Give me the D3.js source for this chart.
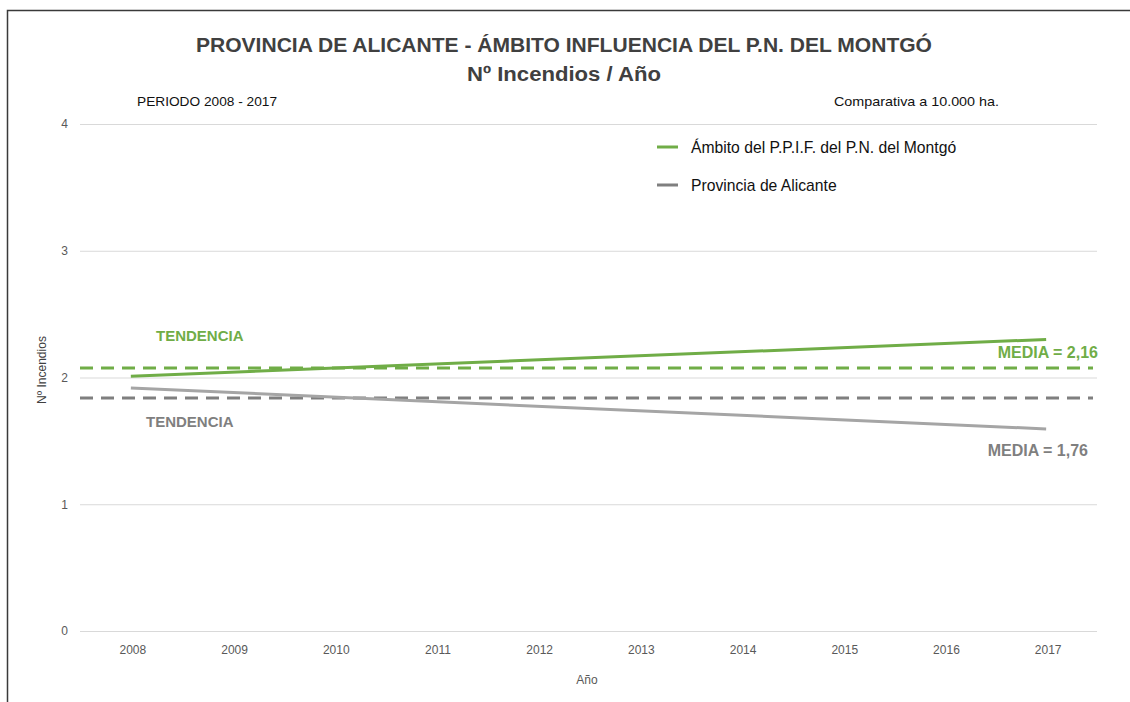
<!DOCTYPE html>
<html><head><meta charset="utf-8">
<script src="https://cdn.jsdelivr.net/npm/d3@7"></script>
<style>body{margin:0;background:#fff}svg{display:block}</style>
</head><body><svg id="c" width="1130" height="702"></svg>
<script>
// ---- data ----
const years = ["2008","2009","2010","2011","2012","2013","2014","2015","2016","2017"];
const yTicks = [0,1,2,3,4];
const trendYears = ["2008","2017"];
const trendMontgo = [2.01, 2.30];
const trendAlicante = [1.917, 1.594];
const meanMontgo = 2.075;
const meanAlicante = 1.838;
const meanLabels = ["MEDIA = 2,16","MEDIA = 1,76"];
const seriesNames = ["Ámbito del P.P.I.F. del P.N. del Montgó","Provincia de Alicante"];

const svg = d3.select("#c");
const W = 1130, H = 702;
const m = {left:80, right:33, top:124, bottom:71};
const x = d3.scaleBand().domain(years).range([m.left, W - m.right]);
const y = d3.scaleLinear().domain([0,4]).range([H - m.bottom, m.top]);
const green = "#70AD47", grayT = "#A5A5A5", grayD = "#7F7F7F", txt = "#595959";
const font = "'Liberation Sans', Arial, sans-serif";

// frame
svg.append("path").attr("d","M7.5,702 V10.5 H1130").attr("fill","none").attr("stroke","#3a3a3a").attr("stroke-width",1.5);

// gridlines + y ticks
const ya = svg.append("g").attr("transform",`translate(${m.left},0)`)
  .call(d3.axisLeft(y).tickValues(yTicks).tickSize(-(W - m.left - m.right)).tickPadding(12).tickFormat(d3.format("d")));
ya.select(".domain").remove();
ya.selectAll(".tick line").attr("stroke","#D9D9D9");
ya.selectAll(".tick text").attr("fill",txt).attr("font-family",font).attr("font-size",12);

// x axis labels
const xa = svg.append("g").attr("transform",`translate(0,${H - m.bottom})`)
  .call(d3.axisBottom(x).tickSize(0).tickPadding(14));
xa.select(".domain").remove();
xa.selectAll(".tick text").attr("fill",txt).attr("font-family",font).attr("font-size",12).attr("dx",2);

// axis titles
svg.append("text").attr("x",587).attr("y",684).attr("text-anchor","middle").attr("fill",txt)
  .attr("font-family",font).attr("font-size",12).text("Año");
svg.append("text").attr("transform","translate(46,370) rotate(-90)").attr("text-anchor","middle").attr("fill","#404040")
  .attr("font-family",font).attr("font-size",12).text("Nº Incendios");

// mean dashed lines
const xr = x.range();
[[meanMontgo, green],[meanAlicante, grayD]].forEach(([v,c])=>{
  svg.append("line").attr("x1",xr[0]).attr("x2",xr[1]-4).attr("y1",y(v)).attr("y2",y(v))
    .attr("stroke",c).attr("stroke-width",3).attr("stroke-dasharray","13,8");
});

// trend lines
const line = d3.line().x(d=>x(d[0]) + x.bandwidth()/2).y(d=>y(d[1]));
[[trendMontgo, green],[trendAlicante, grayT]].forEach(([vals,c])=>{
  svg.append("path").datum(trendYears.map((yr,i)=>[yr, vals[i]]))
    .attr("d", line).attr("fill","none").attr("stroke",c).attr("stroke-width",3);
});

// annotations
const bold = (xx,yy,t,c,anchor,fs)=>svg.append("text").attr("x",xx).attr("y",yy).attr("fill",c)
  .attr("font-family",font).attr("font-weight","bold").attr("font-size",fs).attr("text-anchor",anchor||"start").text(t);
bold(156,341,"TENDENCIA",green,"start",15);
bold(146,427,"TENDENCIA",grayD,"start",15);
bold(1098,358,meanLabels[0],green,"end",16);
bold(1088,456,meanLabels[1],grayD,"end",16);

// legend
[[seriesNames[0], green, 147],[seriesNames[1], grayD, 185]].forEach(([t,c,yy])=>{
  svg.append("line").attr("x1",657).attr("x2",678).attr("y1",yy).attr("y2",yy).attr("stroke",c).attr("stroke-width",3);
  svg.append("text").attr("x",691).attr("y",yy+5.5).attr("fill","#111").attr("font-family",font).attr("font-size",15.7).text(t);
});

// titles
svg.append("text").attr("x",564).attr("y",52).attr("text-anchor","middle").attr("fill","#404040")
  .attr("font-family",font).attr("font-weight","bold").attr("font-size",20)
  .attr("textLength",736).attr("lengthAdjust","spacingAndGlyphs")
  .text("PROVINCIA DE ALICANTE - ÁMBITO INFLUENCIA DEL P.N. DEL MONTGÓ");
svg.append("text").attr("x",564).attr("y",81).attr("text-anchor","middle").attr("fill","#404040")
  .attr("font-family",font).attr("font-weight","bold").attr("font-size",20)
  .attr("textLength",194).attr("lengthAdjust","spacingAndGlyphs")
  .text("Nº Incendios / Año");
svg.append("text").attr("x",137).attr("y",106).attr("fill","#111").attr("font-family",font).attr("font-size",13)
  .attr("textLength",140).attr("lengthAdjust","spacingAndGlyphs").text("PERIODO 2008 - 2017");
svg.append("text").attr("x",834).attr("y",106).attr("fill","#111").attr("font-family",font).attr("font-size",13)
  .attr("textLength",165).attr("lengthAdjust","spacingAndGlyphs").text("Comparativa a 10.000 ha.");
</script></body></html>
